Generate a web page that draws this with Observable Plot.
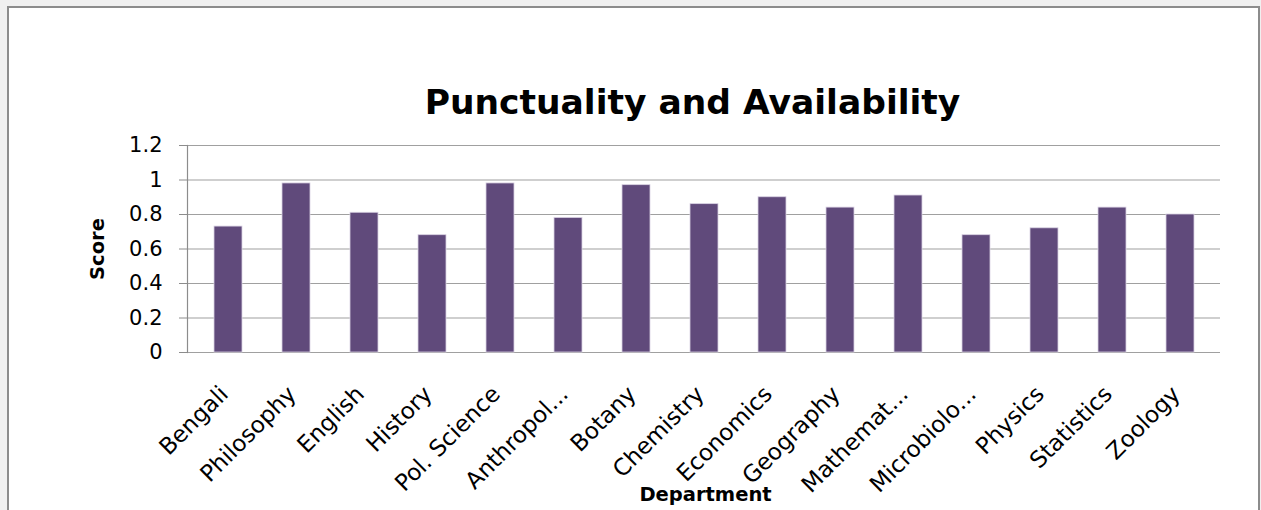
<!DOCTYPE html>
<html>
<head>
<meta charset="utf-8">
<script src="https://cdn.jsdelivr.net/npm/d3@7"></script>
<script src="https://cdn.jsdelivr.net/npm/@observablehq/plot@0.6"></script>
<style>
  html, body { margin: 0; padding: 0; background: #f0f0f0; width: 1261px; height: 510px; overflow: hidden; }
  #box { position: absolute; left: 7px; top: 6px; width: 1249px; height: 520px; border: 2px solid #8c8c8c; background: #ffffff; }
  #chart { position: absolute; left: 0; top: 0; }
</style>
</head>
<body>
<div id="box"></div>
<div id="chart"></div>
<script>
const title = "Punctuality and Availability";
const xTitle = "Department";
const yTitle = "Score";
const departments = ["Bengali", "Philosophy", "English", "History", "Pol. Science", "Anthropol...", "Botany", "Chemistry", "Economics", "Geography", "Mathemat...", "Microbiolo...", "Physics", "Statistics", "Zoology"];
const scores = [0.73, 0.98, 0.81, 0.68, 0.98, 0.78, 0.97, 0.86, 0.90, 0.84, 0.91, 0.68, 0.72, 0.84, 0.80];
const yTicks = [0, 0.2, 0.4, 0.6, 0.8, 1, 1.2];

const table = departments.map((d, i) => ({department: d, score: scores[i]}));
const font = "'DejaVu Sans', Verdana, sans-serif";

const chart = Plot.plot({
  width: 1261,
  height: 510,
  marginTop: 145,
  marginBottom: 158,
  marginLeft: 187,
  marginRight: 41,
  style: {fontFamily: font, fontSize: "21px", background: "transparent", color: "#000"},
  x: {domain: departments, paddingInner: 0.59, paddingOuter: 0.295, axis: null},
  y: {domain: [0, 1.2], axis: null},
  marks: [
    Plot.gridY(yTicks, {stroke: "#a0a0a0", strokeOpacity: 1, strokeWidth: 1.2}),
    Plot.barY(table, {x: "department", y: "score", fill: "#604a7b", stroke: "#d9d2e3", strokeWidth: 0.8}),
    Plot.axisY(yTicks, {tickSize: 8, tickPadding: 17, stroke: "#8c8c8c", fill: "#000", fontSize: 21, tickFormat: d => String(+d.toFixed(1)), label: null}),
    Plot.frame({anchor: "left", stroke: "#8c8c8c", strokeWidth: 1.2}),
    Plot.text(departments, {x: d => d, text: d => d, frameAnchor: "bottom", rotate: -45, textAnchor: "end", lineAnchor: "bottom", dx: 1, dy: 43, fontSize: 23, fill: "#000"}),
    Plot.text([yTitle], {text: d => d, frameAnchor: "left", rotate: -90, textAnchor: "middle", lineAnchor: "bottom", dx: -84, fontSize: 19.5, fontWeight: "bold", fill: "#000"}),
    Plot.text([xTitle], {text: d => d, frameAnchor: "bottom", textAnchor: "middle", lineAnchor: "bottom", dx: 1.5, dy: 148.7, fontSize: 19.5, fontWeight: "bold", fill: "#000"}),
    Plot.text([title], {text: d => d, frameAnchor: "top", textAnchor: "middle", lineAnchor: "bottom", dx: -11.5, dy: -31.7, fontSize: 34.5, fontWeight: "bold", fill: "#000"})
  ]
});
document.getElementById("chart").appendChild(chart);
</script>
</body>
</html>
